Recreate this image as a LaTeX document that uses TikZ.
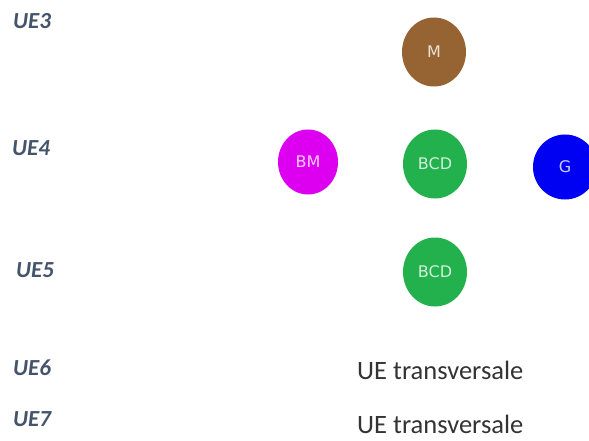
\documentclass[tikz,border=0pt]{standalone}
\usepackage{fontspec}
\setmainfont{Carlito}
\newfontfamily\bubblefont{DejaVu Sans}
\usetikzlibrary{shapes.geometric}

\definecolor{ueslate}{HTML}{44546A}
\definecolor{uebrown}{HTML}{966432}
\definecolor{uegreen}{HTML}{22B14C}
\definecolor{uemagenta}{HTML}{DD00F0}
\definecolor{ueblue}{HTML}{0000F2}

\tikzset{
  uelabel/.style={anchor=west, inner sep=0pt, text=ueslate,
    font=\fontsize{23}{27}\selectfont\bfseries\itshape},
  bubble/.style={ellipse, minimum width=64pt, minimum height=69pt, inner sep=0pt,
    text=white, text opacity=0.8, font=\bubblefont\fontsize{16}{18}\selectfont},
  transv/.style={anchor=west, inner sep=0pt, text=black!80,
    font=\fontsize{26.5}{31}\selectfont}
}

\begin{document}
\begin{tikzpicture}[x=1pt, y=-1pt]
  \useasboundingbox (0,0) rectangle (589,441);
  % semester labels
  \node[uelabel] (UEthree) at (13,21) {UE3};
  \node[uelabel] (UEfour)  at (12,148) {UE4};
  \node[uelabel] (UEfive)  at (16,270) {UE5};
  \node[uelabel] (UEsix)   at (13,368) {UE6};
  \node[uelabel] (UEseven) at (13,419) {UE7};
  % modules
  \node[bubble, fill=uebrown]   (M)    at (434,52)  {M};
  \node[bubble, fill=uemagenta, minimum width=60pt, minimum height=65pt] (BM) at (308,162) {BM};
  \node[bubble, fill=uegreen]   (BCDa) at (435,164) {BCD};
  \node[bubble, fill=ueblue, minimum height=65pt] (G) at (565,167) {G};
  \node[bubble, fill=uegreen]   (BCDb) at (435,272) {BCD};
  \node[transv] (TRsix)   at (357,370) {UE transversale};
  \node[transv] (TRseven) at (357,424) {UE transversale};
\end{tikzpicture}
\end{document}
